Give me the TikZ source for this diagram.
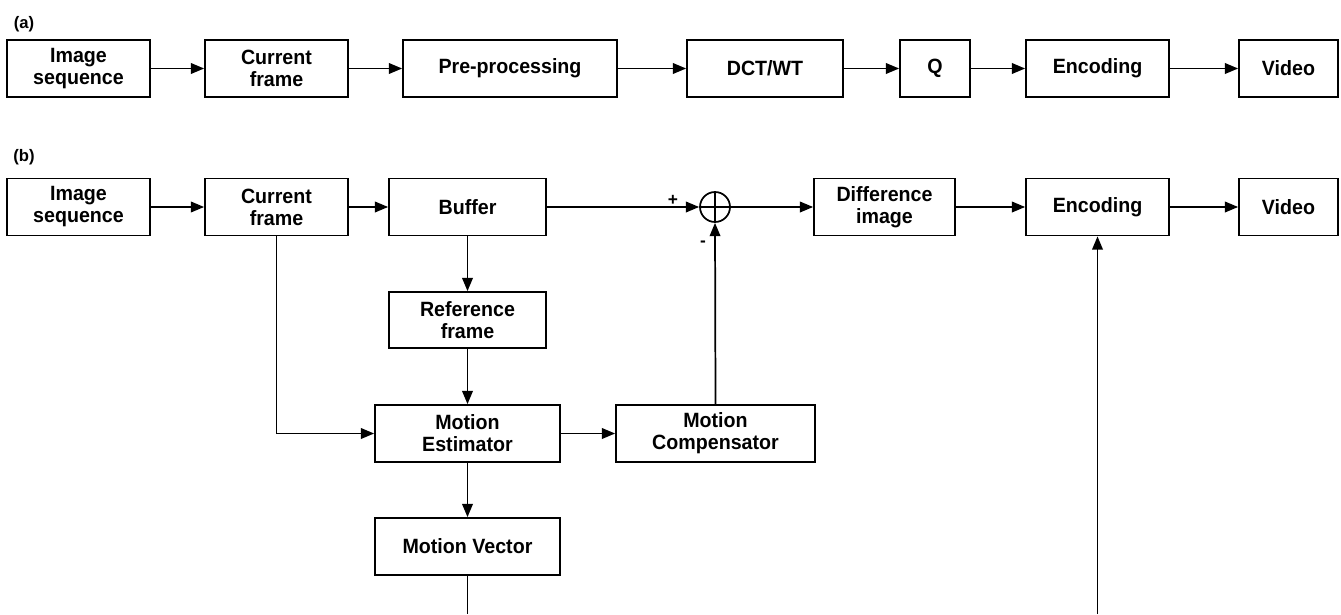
\documentclass[tikz,border=0pt]{standalone}
\usepackage{fontspec}
\setmainfont{Liberation Sans}[FakeStretch=0.95]
\newfontfamily\labfont{Liberation Sans}
\usetikzlibrary{arrows.meta,positioning}
\tikzset{
  blk/.style={draw, line width=1.3pt, inner sep=0pt, align=center,
    font=\fontsize{15.5pt}{16.5pt}\selectfont\bfseries, minimum height=42.75pt},
  w143/.style={minimum width=107.25pt},
  arr/.style={line width=1.3pt, -{Triangle[length=10pt,width=8pt]}},
  ln/.style={line width=1.3pt},
  sumc/.style={draw, circle, line width=1.3pt, minimum size=22.5pt, inner sep=0pt},
  sig/.style={font=\fontsize{13pt}{14pt}\labfont\bfseries, inner sep=0pt},
  lab/.style={font=\fontsize{12.5pt}{13pt}\labfont\bfseries, inner sep=0pt}
}
\begin{document}
\begin{tikzpicture}[x=0.75pt,y=-0.75pt]
\useasboundingbox (0,0) rectangle (1341,614);
% labels
\node[lab] (la) at (24,24) {(a)};
\node[lab] (lb) at (24,157) {(b)};
% row (a)
\node[blk,w143] (ia) at (78.5,68.5) {Image\\sequence};
\node[blk,w143] (ca) at (276.5,68.5) {Current\\frame};
\node[blk,minimum width=160.5pt] (pa) at (510,68.5) {Pre-processing};
\node[blk,minimum width=117pt] (da) at (765,68.5) {DCT/WT};
\node[blk,minimum width=52.5pt] (qa) at (935,68.5) {Q};
\node[blk,w143] (ea) at (1097.5,68.5) {Encoding};
\node[blk,minimum width=74.25pt] (va) at (1288.5,68.5) {Video};
\draw[arr] (ia) -- (ca);
\draw[arr] (ca) -- (pa);
\draw[arr] (pa) -- (da);
\draw[arr] (da) -- (qa);
\draw[arr] (qa) -- (ea);
\draw[arr] (ea) -- (va);
% row (b)
\node[blk,w143] (ib) at (78.5,207) {Image\\sequence};
\node[blk,w143] (cb) at (276.5,207) {Current\\frame};
\node[blk,minimum width=117.75pt] (buf) at (467.5,207) {Buffer};
\node[sumc] (sum) at (715,207) {};
\draw[ln] (sum.north) -- (sum.south) (sum.west) -- (sum.east);
\node[blk,minimum width=105.75pt] (diff) at (884.5,207) {Difference\\image};
\node[blk,w143] (eb) at (1097.5,207) {Encoding};
\node[blk,minimum width=74.25pt] (vb) at (1288.5,207) {Video};
\node[blk,minimum width=117.75pt,minimum height=42pt] (ref) at (467.5,320) {Reference\\frame};
\node[blk,minimum width=138.75pt] (me) at (467.5,433.5) {Motion\\Estimator};
\node[blk,minimum width=149.25pt] (mc) at (715.5,433.5) {Motion\\Compensator};
\node[blk,minimum width=138.75pt] (mv) at (467.5,546.5) {Motion Vector};
\node[sig] (plus) at (673,200) {+};
\node[sig] (minus) at (703,244) {-};
\coordinate (mvend) at (467.5,614);
\coordinate (encstart) at (1097.5,614);
\draw[arr] (ib) -- (cb);
\draw[arr] (cb) -- (buf);
\draw[arr] (buf) -- (sum);
\draw[arr] (sum) -- (diff);
\draw[arr] (diff) -- (eb);
\draw[arr] (eb) -- (vb);
\draw[arr] (buf) -- (ref);
\draw[arr] (ref) -- (me);
\draw[arr] (cb.south) |- (me.west);
\draw[arr] (me) -- (mc);
\draw[arr] (mc.north) -- (sum.south);
\draw[arr] (me) -- (mv);
\draw[ln] (mv.south) -- (mvend);
\draw[arr] (encstart) -- (eb.south);
\end{tikzpicture}
\end{document}
